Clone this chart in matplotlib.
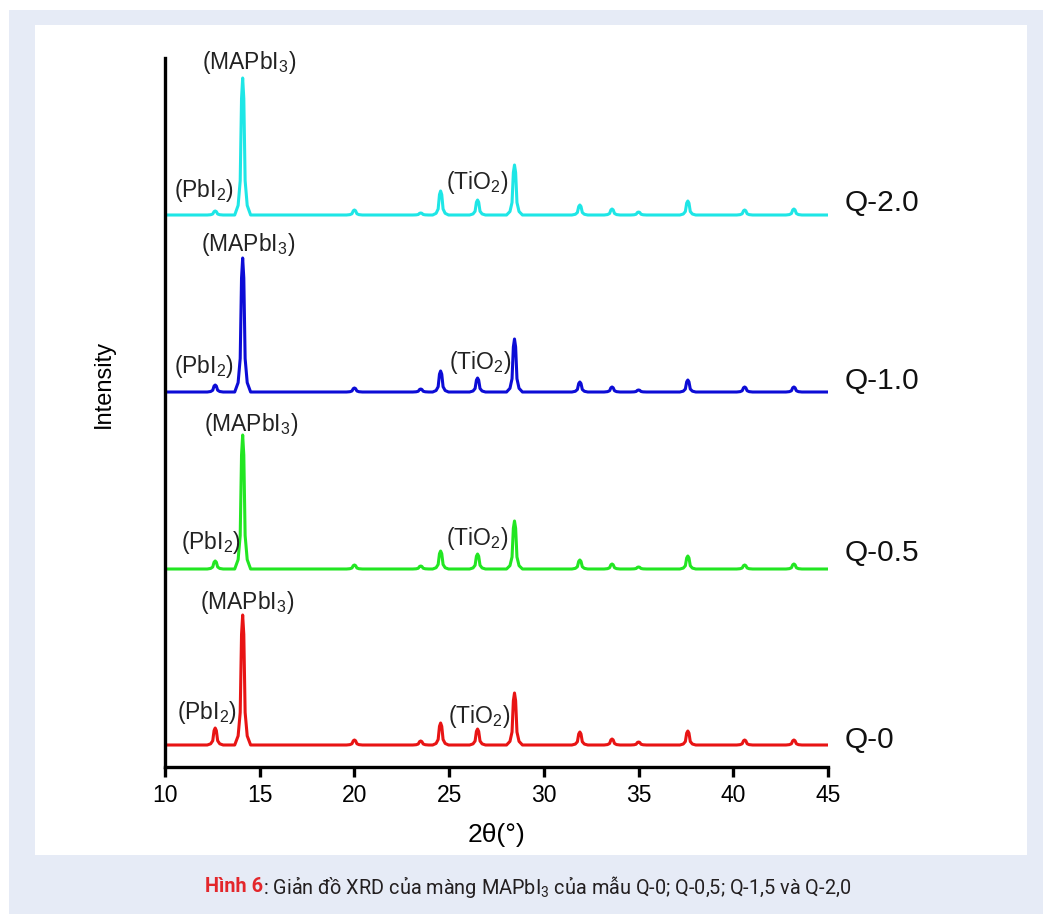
import matplotlib
matplotlib.use("Agg")
import matplotlib.pyplot as plt
from matplotlib.patches import Rectangle

# Peak positions (2theta, degrees) shared by all four films
peak_pos = [12.65, 14.1, 20.0, 23.5, 24.55, 26.5, 28.45, 31.9, 33.6, 35.0, 37.6, 40.6, 43.2]

# Peak heights above each trace's baseline (arbitrary units)
h_q0 = [17, 130, 5, 4, 22, 16, 52, 13, 6, 3, 14, 5, 5]
h_q05 = [8, 134, 4, 3, 18, 15, 48, 9, 5, 2, 13, 4, 5]
h_q10 = [7, 134, 4, 3, 21, 14, 53, 10, 5, 2, 12, 5, 5]
h_q20 = [4, 137, 5, 2, 24, 15, 50, 10, 6, 3, 14, 5, 6]

# Vertical offsets of the stacked traces
baselines = [22, 198, 375, 552]
sample_names = ["Q-0", "Q-0.5", "Q-1.0", "Q-2.0"]
colors = ["#e81414", "#22e622", "#0c0cd6", "#1ee6e6"]

# (x, y) of the phase labels for every trace: PbI2, MAPbI3, TiO2
pbi2_xy = [(12.2, 54), (12.43, 225), (12.06, 400), (12.06, 577)]
mapbi3_xy = [(14.35, 165), (14.54, 342), (14.38, 522), (14.43, 704)]
tio2_xy = [(26.58, 50), (26.5, 229), (26.63, 405), (26.5, 585)]
name_y = [27, 214, 386, 564]

x_ticks = [10, 15, 20, 25, 30, 35, 40, 45]

# shape of one peak: offsets from the centre and fraction of the height
shape_dx = [-0.42, -0.24, -0.13, -0.06, 0.0, 0.06, 0.13, 0.24, 0.42]
shape_f = [0.0, 0.07, 0.25, 0.85, 1.0, 0.85, 0.25, 0.07, 0.0]

W, H = 1043, 914


def trace(heights, base):
    """Builds the vertices of one stacked pattern from its peak list."""
    xs = [10.0]
    ys = [base]
    for c, h in zip(peak_pos, heights):
        for dx, f in zip(shape_dx, shape_f):
            xs.append(c + dx)
            ys.append(base + h * f)
    xs.append(45.0)
    ys.append(base)
    return xs, ys


def px_rect(x0, y0, x1, y1, color):
    # rectangle given in image pixels (top-left origin)
    return Rectangle((x0 / W, 1 - y1 / H), (x1 - x0) / W, (y1 - y0) / H,
                     transform=fig.transFigure, facecolor=color,
                     edgecolor="none", zorder=-10)


plt.rcParams["font.family"] = ["Liberation Sans", "DejaVu Sans"]
plt.rcParams["mathtext.default"] = "regular"

fig = plt.figure(figsize=(W / 100, H / 100), dpi=100, facecolor="white")
fig.patches.append(px_rect(9, 10, W, H, "#e6ebf6"))
fig.patches.append(px_rect(35, 25, 1027, 855, "white"))

ax = fig.add_axes([165 / W, 1 - 767 / H, (828 - 165) / W, (767 - 58) / H])
ax.patch.set_alpha(0)

all_heights = [h_q0, h_q05, h_q10, h_q20]
for i in range(4):
    xs, ys = trace(all_heights[i], baselines[i])
    ax.plot(xs, ys, color=colors[i], lw=2.2, solid_joinstyle="round")
    ax.text(pbi2_xy[i][0], pbi2_xy[i][1], "(PbI$_2$)", fontsize=16.5,
            ha="center", va="center", color="#222222")
    ax.text(mapbi3_xy[i][0], mapbi3_xy[i][1], "(MAPbI$_3$)", fontsize=16.5,
            ha="center", va="center", color="#222222")
    ax.text(tio2_xy[i][0], tio2_xy[i][1], "(TiO$_2$)", fontsize=16.5,
            ha="center", va="center", color="#222222")
    ax.text(45.9, name_y[i], sample_names[i], fontsize=21.5, ha="left",
            va="center", color="#111111", clip_on=False)

ax.set_xlim(10, 45)
ax.set_ylim(0, 709)
ax.set_xticks(x_ticks)
ax.set_xticklabels([str(t) for t in x_ticks], fontsize=16.5)
ax.set_yticks([])
ax.spines["top"].set_visible(False)
ax.spines["right"].set_visible(False)
ax.spines["left"].set_linewidth(2.4)
ax.spines["bottom"].set_linewidth(2.4)
ax.tick_params(axis="x", direction="out", length=7, width=2.4, pad=5)
ax.set_xlabel("2θ(°)", fontsize=19, labelpad=12)
ax.set_ylabel("Intensity", fontsize=17)
ax.yaxis.set_label_coords(-0.075, 0.54)

# caption under the panel: red bold figure number followed by black text
cap = fig.text(205 / W, 1 - 887 / H, "Hình 6", color="#e3262b",
               fontweight="bold", fontsize=14.3, va="center", ha="left",
               family=["Roboto", "DejaVu Sans"])
ax.annotate(": Giản đồ XRD của màng MAPbI$_3$ của mẫu Q-0; Q-0,5; Q-1,5 và Q-2,0",
            xy=(1, 0.5), xycoords=cap, va="center", ha="left",
            fontsize=14.3, color="#231f20", family=["Roboto", "DejaVu Sans"],
            annotation_clip=False)

fig.savefig("out.png", dpi=100, facecolor=fig.get_facecolor())
